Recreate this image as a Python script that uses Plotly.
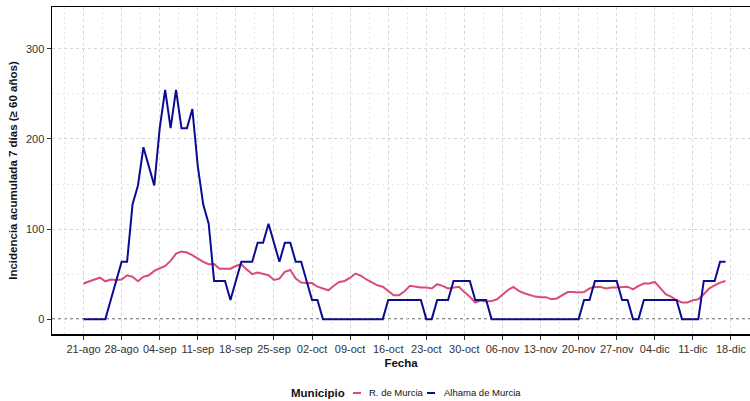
import pandas as pd
import plotly.graph_objects as go

start = "2020-08-21"
n_days = 119
fechas = pd.date_range(start, periods=n_days, freq="D")

murcia = [39.5, 42, 44, 46, 42, 44, 43.5, 44, 48.7, 47,
          42, 47, 48.7, 53.5, 56, 59, 64.6, 72.7, 75, 74,
          71, 67, 63.5, 61, 61.3, 56, 56, 56, 59, 61,
          55, 50, 51.7, 50.6, 48.7, 43.5, 45, 52.4, 54.6, 45,
          40.6, 40, 40, 36, 34, 32, 37, 41.3, 42.4, 46,
          50.6, 48, 44, 40.6, 37.6, 36, 31.4, 26.6, 26.6, 31,
          37, 36, 35, 35, 34, 38.8, 37, 34, 35, 36,
          30, 25, 18.5, 20.7, 19.6, 20, 22, 27.7, 32.4, 35.8,
          31.4, 28.8, 27, 25, 24.4, 24.4, 22, 23, 26.6, 30,
          30, 29.5, 30, 34, 36, 35.8, 34, 35, 35, 35.8,
          36, 33, 37, 39.5, 39.5, 41.3, 35, 27.7, 25, 21,
          18.5, 18.5, 21, 22, 27.7, 34, 37.6, 40.6, 42.4]

alhama = [0, 0, 0, 0, 0, 21.2, 42.4, 63.6, 63.6, 127.2,
          148.4, 190.8, 169.6, 148.4, 212.0, 254.4, 212.0, 254.4, 212.0, 212.0,
          233.2, 169.6, 127.2, 106.0, 42.4, 42.4, 42.4, 21.2, 42.4, 63.6,
          63.6, 63.6, 84.8, 84.8, 106.0, 84.8, 63.6, 84.8, 84.8, 63.6,
          63.6, 42.4, 21.2, 21.2, 0, 0, 0, 0, 0, 0,
          0, 0, 0, 0, 0, 0, 21.2, 21.2, 21.2, 21.2,
          21.2, 21.2, 21.2, 0, 0, 21.2, 21.2, 21.2, 42.4, 42.4,
          42.4, 42.4, 21.2, 21.2, 21.2, 0, 0, 0, 0, 0,
          0, 0, 0, 0, 0, 0, 0, 0, 0, 0,
          0, 0, 21.2, 21.2, 42.4, 42.4, 42.4, 42.4, 42.4, 21.2,
          21.2, 0, 0, 21.2, 21.2, 21.2, 21.2, 21.2, 21.2, 21.2,
          0, 0, 0, 0, 42.4, 42.4, 42.4, 63.6, 63.6]

tick_dates = ["2020-08-21", "2020-08-28", "2020-09-04", "2020-09-11", "2020-09-18",
              "2020-09-25", "2020-10-02", "2020-10-09", "2020-10-16", "2020-10-23",
              "2020-10-30", "2020-11-06", "2020-11-13", "2020-11-20", "2020-11-27",
              "2020-12-04", "2020-12-11", "2020-12-18"]
tick_labels = ["21-ago", "28-ago", "04-sep", "11-sep", "18-sep", "25-sep", "02-oct",
               "09-oct", "16-oct", "23-oct", "30-oct", "06-nov", "13-nov", "20-nov",
               "27-nov", "04-dic", "11-dic", "18-dic"]

series_names = ["R. de Murcia", "Alhama de Murcia"]
colors = ["#DA4B78", "#0C0C92"]
legend_title = "Municipio"

FONT = "Liberation Sans, Arial, sans-serif"

W, H = 750, 401
ML, MR, MT, MB = 52, 0, 7, 67
PW, PH = W - ML - MR, H - MT - MB


def px_x(p):
    return (p - ML) / PW


def px_y(p):
    return (H - MB - p) / PH


fig = go.Figure()
for name, vals, col in zip(series_names, [murcia, alhama], colors):
    fig.add_trace(go.Scatter(x=fechas, y=vals, mode="lines", name=name,
                             line=dict(color=col, width=2), showlegend=False))

fig.add_shape(type="line", xref="paper", yref="y", x0=0, x1=1, y0=0, y1=0,
              line=dict(color="#222222", width=1.3, dash="3px,3px"), layer="below")

# manual compact legend (ggplot style)
ly = px_y(393)
fig.add_annotation(xref="paper", yref="paper", x=px_x(347), y=ly, xanchor="right",
                   yanchor="middle", showarrow=False,
                   text="<b>" + legend_title + "</b>",
                   font=dict(size=11.5, color="#111111", family=FONT))
item_x = [(353, 367), (427, 442)]
for (lx, tx), name, col in zip(item_x, series_names, colors):
    fig.add_shape(type="line", xref="paper", yref="paper", x0=px_x(lx), x1=px_x(lx + 8),
                  y0=ly, y1=ly, line=dict(color=col, width=2))
    fig.add_annotation(xref="paper", yref="paper", x=px_x(tx), y=ly, xanchor="left",
                       yanchor="middle", showarrow=False, text=name,
                       font=dict(size=9.5, color="#111111", family=FONT))

fig.update_layout(
    width=W, height=H,
    margin=dict(l=ML, r=MR, t=MT, b=MB, autoexpand=False),
    paper_bgcolor="white", plot_bgcolor="white",
    font=dict(family=FONT, color="#333333"),
    showlegend=False,
    hovermode=False,
)

fig.update_xaxes(
    automargin=False,
    range=["2020-08-15 04:48", "2020-12-21 12:00"],
    tickmode="array", tickvals=tick_dates, ticktext=tick_labels,
    tickfont=dict(size=11, color="#333333"),
    ticks="outside", ticklen=4, tickcolor="#333333",
    showline=True, linecolor="black", linewidth=1.5, mirror=True,
    showgrid=True, gridcolor="#d6d6d6", griddash="3px,3px", gridwidth=1,
    minor=dict(tick0="2020-08-24 12:00", dtick=7 * 86400000, showgrid=True,
               gridcolor="#e6e6e6", griddash="2px,3px", ticks=""),
    zeroline=False,
    title=dict(text="<b>Fecha</b>", font=dict(size=11.5, color="#111111"), standoff=5),
)
fig.update_yaxes(
    automargin=False,
    range=[-16.5, 346.5],
    tickmode="linear", tick0=0, dtick=100,
    tickfont=dict(size=11, color="#333333"),
    ticks="outside", ticklen=4, tickcolor="#333333",
    showline=True, linecolor="black", linewidth=1.5,
    showgrid=True, gridcolor="#d6d6d6", griddash="3px,3px", gridwidth=1,
    minor=dict(dtick=50, showgrid=True, gridcolor="#e6e6e6", griddash="2px,3px", ticks=""),
    zeroline=False,
    title=dict(text="<b>Incidencia acumulada 7 días (≥ 60 años)</b>",
               font=dict(size=11.5, color="#111111"), standoff=6),
)

fig.write_html("out.html", config={"displayModeBar": False, "staticPlot": True})

# remove the browser's default page margin so the figure sits at (0, 0)
with open("out.html", encoding="utf-8") as f:
    html = f.read()
html = html.replace("<head>", "<head><style>html,body{margin:0;padding:0;overflow:hidden;}</style>", 1)
with open("out.html", "w", encoding="utf-8") as f:
    f.write(html)
